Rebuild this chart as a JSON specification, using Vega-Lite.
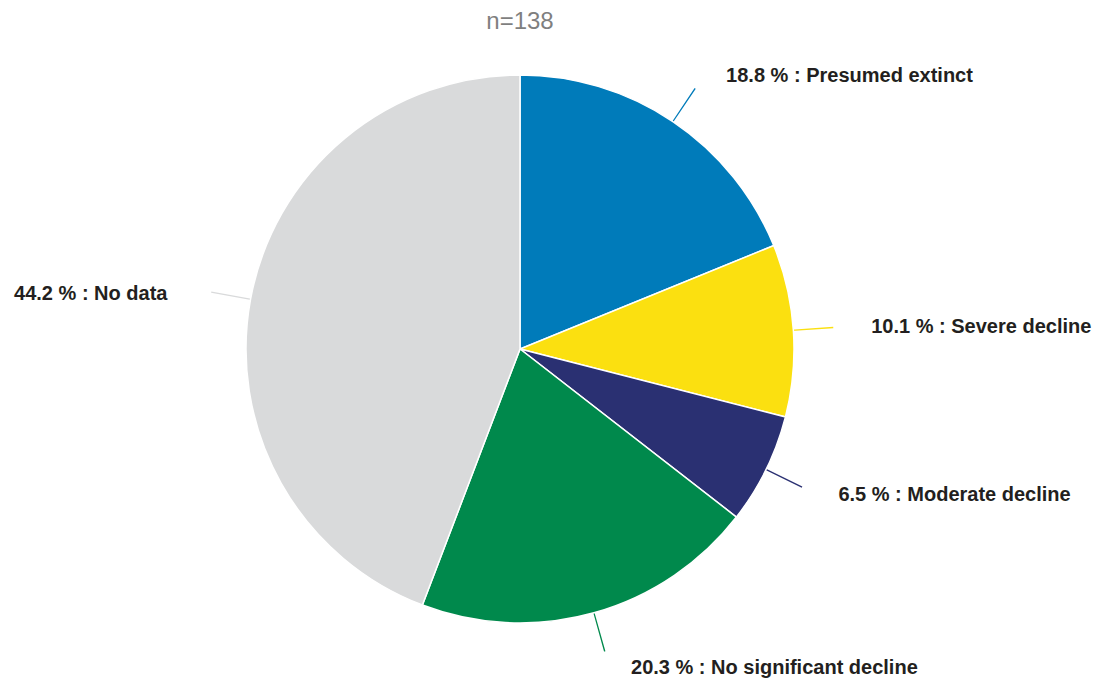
{
  "$schema": "https://vega.github.io/schema/vega-lite/v6.json",
  "autosize": "none",
  "width": 1040,
  "height": 598,
  "padding": {"left": 0, "top": 50, "right": 65, "bottom": 34},
  "background": "white",
  "title": {
    "text": "n=138",
    "font": "Liberation Sans",
    "fontSize": 24,
    "fontWeight": "normal",
    "color": "#7f7f7f",
    "anchor": "middle",
    "frame": "group",
    "offset": 16
  },
  "view": {"stroke": null},
  "data": {
    "values": [
      {"category": "Presumed extinct", "count": 26, "order": 1, "label": "18.8 % : Presumed extinct"},
      {"category": "Severe decline", "count": 14, "order": 2, "label": "10.1 % : Severe decline"},
      {"category": "Moderate decline", "count": 9, "order": 3, "label": "6.5 % : Moderate decline"},
      {"category": "No significant decline", "count": 28, "order": 4, "label": "20.3 % : No significant decline"},
      {"category": "No data", "count": 61, "order": 5, "label": "44.2 % : No data"}
    ]
  },
  "layer": [
    {
      "transform": [
        {"window": [{"op": "sum", "field": "count", "as": "cum"}], "sort": [{"field": "order"}], "frame": [null, 0]}
      ],
      "mark": {
        "type": "arc",
        "radius": 314,
        "radius2": 272,
        "theta": {"expr": "2*PI*(datum.cum - datum.count/2)/138 - 0.0023"},
        "theta2": {"expr": "2*PI*(datum.cum - datum.count/2)/138 + 0.0023"}
      },
      "encoding": {
        "color": {
          "field": "category",
          "type": "nominal",
          "scale": {
            "domain": ["Presumed extinct", "Severe decline", "Moderate decline", "No significant decline", "No data"],
            "range": ["#007bba", "#fbe010", "#2a3072", "#00894c", "#d9dadb"]
          },
          "legend": null
        }
      }
    },
    {
      "mark": {"type": "arc", "radius": 274, "stroke": "white", "strokeWidth": 1.5},
      "encoding": {
        "theta": {"field": "count", "type": "quantitative", "stack": true},
        "order": {"field": "order", "type": "quantitative"},
        "color": {"field": "category", "type": "nominal", "legend": null}
      }
    },
    {
      "mark": {"type": "text", "radius": 330, "dx": 22, "dy": 1, "align": "left", "baseline": "middle", "font": "Liberation Sans", "fontSize": 20, "fontWeight": "bold", "color": "#231f20"},
      "encoding": {
        "theta": {"field": "count", "type": "quantitative", "stack": true},
        "order": {"field": "order", "type": "quantitative"},
        "text": {"condition": {"test": "datum.category == 'No data'", "value": ""}, "field": "label", "type": "nominal"}
      }
    },
    {
      "mark": {"type": "text", "radius": 330, "dx": -28, "dy": 5, "align": "right", "baseline": "middle", "font": "Liberation Sans", "fontSize": 20, "fontWeight": "bold", "color": "#231f20"},
      "encoding": {
        "theta": {"field": "count", "type": "quantitative", "stack": true},
        "order": {"field": "order", "type": "quantitative"},
        "text": {"condition": {"test": "datum.category != 'No data'", "value": ""}, "field": "label", "type": "nominal"}
      }
    }
  ]
}
